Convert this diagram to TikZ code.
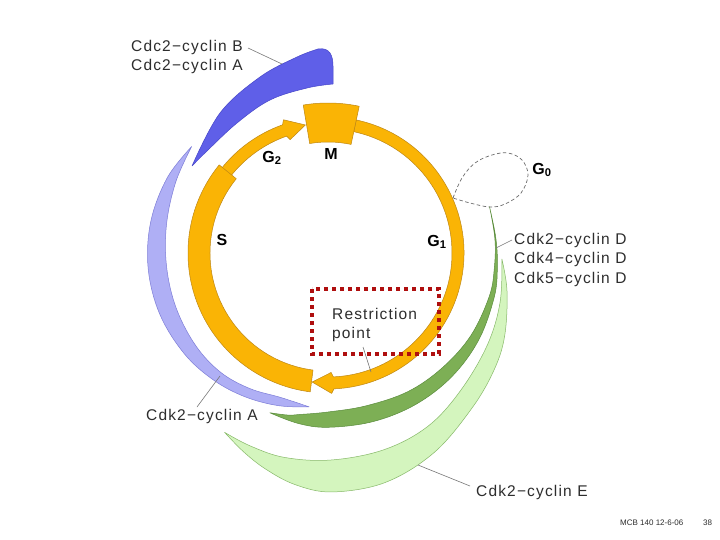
\documentclass[tikz,border=0pt]{standalone}
\usepackage{fontspec}
\setmainfont{Liberation Sans}
\newfontfamily\lbl[LetterSpace=7.5]{Liberation Sans}
\definecolor{orfill}{RGB}{250,180,5}
\definecolor{orline}{RGB}{190,135,20}
\definecolor{dblue}{RGB}{95,95,232}
\definecolor{dblueline}{RGB}{70,70,200}
\definecolor{lblue}{RGB}{175,175,245}
\definecolor{lblueline}{RGB}{125,125,215}
\definecolor{dgreen}{RGB}{125,175,85}
\definecolor{dgreenline}{RGB}{90,140,60}
\definecolor{lgreen}{RGB}{212,245,190}
\definecolor{lgreenline}{RGB}{135,185,105}
\definecolor{boxred}{RGB}{175,15,15}
\definecolor{txt}{RGB}{45,45,45}
\definecolor{leadc}{RGB}{120,120,120}
\begin{document}
\begin{tikzpicture}[x=1pt,y=-1pt,
  lbl/.style={font=\lbl\fontsize{15.5}{19.5}\selectfont, text=txt, inner sep=0pt, align=left},
  phase/.style={font=\bfseries\fontsize{16}{16}\selectfont, inner sep=0pt},
  leader/.style={draw=leadc, line width=0.6pt},
  band/.style={line width=0.5pt, line join=round},
  orangepart/.style={fill=orfill, draw=orline, line width=0.5pt, line join=round}]
\useasboundingbox (0,0) rectangle (720,540);
\fill[white] (0,0) rectangle (720,540);

% ---- bands in polar coordinates around the ring centre ----
\begin{scope}[shift={(328,253)}, yscale=-1]
  % Cdk2-cyclin E (light green)
  \filldraw[band, fill=lgreen, draw=lgreenline]
    plot[smooth, tension=0.6] coordinates {(-2:174) (-12:183) (-25:195) (-35:203) (-47:211.5) (-62:226) (-76:236.5) (-89:239) (-98:234) (-106:225) (-113:216) (-120:207)}
    -- plot[smooth, tension=0.6] coordinates {(-120:207) (-112:208) (-102:209) (-89:207) (-74:204.5) (-60:200) (-46:191) (-30:184) (-16:179) (-2:174)} -- cycle;
  % Cdk-cyclin D (dark green)
  \filldraw[band, fill=dgreen, draw=dgreenline]
    plot[smooth, tension=0.6] coordinates {(16:168) (5:168.5) (-5:170) (-15:172) (-30:174) (-45:175) (-60:175) (-75:174.5) (-90:174.3) (-100:173) (-110:170)}
    -- plot[smooth, tension=0.6] coordinates {(-110:170) (-104:167) (-100:164) (-90:159) (-76:157.5) (-60:160) (-45:162) (-30:165) (-15:167) (-5:167) (5:167.5) (16:168)} -- cycle;
  % Cdk2-cyclin A (light blue)
  \filldraw[band, fill=lblue, draw=lblueline]
    plot[smooth, tension=0.6] coordinates {(142:173) (155:177.5) (170:180) (185:180.5) (200:179) (215:175.5) (228:171) (240:166) (252:160.5) (263:155)}
    -- plot[smooth, tension=0.6] coordinates {(263:155) (252:152) (240:156.5) (228:160.5) (215:161.5) (200:161.5) (185:162) (170:164) (155:168) (142:173)} -- cycle;
\end{scope}

% Cdc2-cyclin B / A (dark blue)
\filldraw[band, fill=dblue, draw=dblueline]
  plot[smooth, tension=0.6] coordinates {(192,166) (220,113) (260,77) (297,57) (318,49)}
  .. controls (330,47) and (333,56) .. (333,66) -- (333,84)
  -- plot[smooth, tension=0.6] coordinates {(333,84) (307,88) (270,100) (237,123) (207,151) (192,166)} -- cycle;

% G0 loop
\coordinate (g0j) at (453,198);
\draw[leadc!90!black, line width=0.7pt, dash pattern=on 3.5pt off 2.5pt]
  plot[smooth, tension=0.6] coordinates {(g0j) (462,178) (475,163) (492,155) (508,153) (522,160) (528,175) (521,193) (505,204) (490,207) (470,203) (g0j)};

% ---- orange cell-cycle ring ----
\begin{scope}[shift={(328,253)}, yscale=-1]
  % G1 arc with arrowhead
  \filldraw[orangepart] (78:136) arc[start angle=78, end angle=-87.5, radius=136]
    -- (-88.5:140.5) -- (-97:130) -- (-88.5:119.5) -- (-87.5:124)
    arc[start angle=-87.5, end angle=78, radius=124] -- cycle;
  % G2 arc with arrowhead
  \filldraw[orangepart] (142:136) arc[start angle=142, end angle=109.5, radius=136]
    -- (108.5:140.5) -- (100:130) -- (108.5:119.5) -- (109.5:124)
    arc[start angle=109.5, end angle=142, radius=124] -- cycle;
  % S block
  \filldraw[orangepart] (141:140) arc[start angle=141, end angle=262.7, radius=140]
    -- (262.7:118) arc[start angle=262.7, end angle=141, radius=118] -- cycle;
  % M block
  \filldraw[orangepart] (78:111) -- (78:150) arc[start angle=78, end angle=99.5, radius=150]
    -- (99.5:111) arc[start angle=99.5, end angle=78, radius=111] -- cycle;
\end{scope}

% restriction point box
\draw[boxred, line width=4pt, dash pattern=on 4pt off 4pt] (312,289) rectangle (439,354);

% phase labels
\node[phase] (M) at (331,154) {M};
\node[phase] (G2) at (272,158) {G\textsubscript{2}};
\node[phase] (S) at (222,240) {S};
\node[phase] (G1) at (437,242) {G\textsubscript{1}};
\node[phase] (G0) at (542,170) {G\textsubscript{0}};

% labels
\node[lbl, anchor=west] (cdcAB) at (131,57) {Cdc2−cyclin B\\Cdc2−cyclin A};
\node[lbl, anchor=west] (cdkD) at (514,259.5) {Cdk2−cyclin D\\Cdk4−cyclin D\\Cdk5−cyclin D};
\node[lbl, anchor=west] (cdk2A) at (146,416) {Cdk2−cyclin A};
\node[lbl, anchor=west] (cdk2E) at (476,492) {Cdk2−cyclin E};
\node[lbl, anchor=west] (rp) at (332,325) {Restriction\\point};
\node[font=\fontsize{8}{8}\selectfont, text=txt, anchor=west, inner sep=0pt] (mcb) at (620,523) {MCB 140 12-6-06};
\node[font=\fontsize{8}{8}\selectfont, text=txt, anchor=west, inner sep=0pt] (pg) at (703,523) {38};

% leader lines
\coordinate (lB0) at (248,48);   \coordinate (lB1) at (282,64);
\coordinate (lD0) at (512,240);  \coordinate (lD1) at (496,248);
\coordinate (lA0) at (197,407);  \coordinate (lA1) at (220,376);
\coordinate (lR0) at (363,347);  \coordinate (lR1) at (371,372);
\coordinate (lE0) at (470,486);  \coordinate (lE1) at (418,465);
\draw[leader] (lB0) -- (lB1);
\draw[leader] (lD0) -- (lD1);
\draw[leader] (lA0) -- (lA1);
\draw[leader] (lR0) -- (lR1);
\draw[leader] (lE0) -- (lE1);
\end{tikzpicture}
\end{document}
